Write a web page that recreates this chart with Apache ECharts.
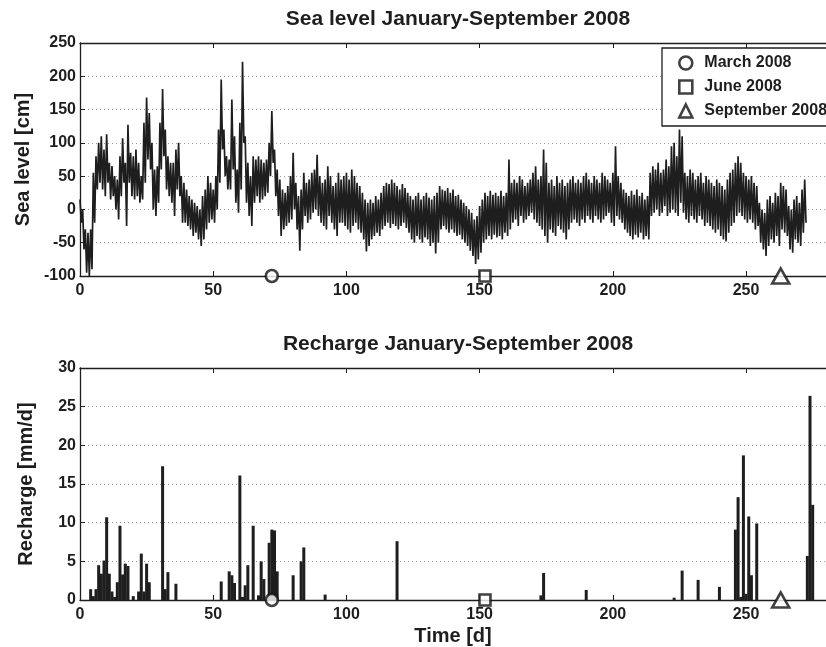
<!DOCTYPE html>
<html>
<head>
<meta charset="utf-8">
<script src="https://cdn.jsdelivr.net/npm/echarts@6/dist/echarts.min.js"></script>
<style>
  html, body { margin: 0; padding: 0; background: #fff; }
  #main { width: 826px; height: 647px; }
</style>
</head>
<body>
<div id="main"></div>
<script>
// sea level, upper / lower envelope of the record for each day [cm], day 0..272
var seaHigh = [
  15, 0, -30, -35, -30, 55, 80, 100, 110, 90,
  113, 70, 65, 50, 45, 80, 107, 70, 127, 85,
  80, 90, 70, 50, 130, 168, 145, 100, 60, 65,
  130, 181, 120, 80, 70, 70, 90, 100, 50, 40,
  30, 20, 15, 10, 5, 0, 20, 30, 50, 40,
  30, 50, 120, 195, 120, 80, 75, 165, 110, 60,
  130, 222, 110, 70, 50, 80, 75, 80, 75, 70,
  75, 100, 148, 90, 60, 45, 30, 25, 35, 50,
  85, 40, 20, 30, 55, 40, 45, 55, 60, 82,
  50, 40, 45, 65, 50, 35, 40, 55, 45, 50,
  55, 45, 60, 50, 40, 35, 25, 15, 10, 15,
  10, 20, 15, 25, 35, 40, 38, 45, 40, 35,
  30, 38, 32, 25, 20, 15, 20, 25, 15, 20,
  25, 18, 15, 20, 25, 35, 30, 28, 32, 25,
  30, 20, 22, 15, 10, 5, 0, -5, -15, -10,
  5, 15, 25, 20, 28, 22, 25, 20, 28, 20,
  25, 75, 40, 45, 40, 50, 45, 35, 40, 45,
  55, 65, 45, 50, 90, 70, 40, 45, 35, 50,
  40, 45, 35, 40, 45, 50, 40, 45, 40, 50,
  55, 45, 40, 50, 45, 40, 55, 50, 45, 40,
  55, 95, 50, 40, 30, 25, 20, 28, 22, 30,
  20, 25, 15, 20, 55, 65, 60, 70, 55, 60,
  75, 65, 95, 100, 80, 120, 110, 55, 50, 60,
  55, 45, 50, 55, 40, 50, 45, 40, 35, 45,
  40, 35, 30, 45, 55, 60, 70, 80, 70, 55,
  50, 45, 50, 40, 35, 10, 0, -5, 15, 20,
  10, 25, 20, 40, 35, 30, 5, 0, 15, 20,
  10, 30, 45
];
var seaLow = [
  -20, -60, -95, -100, -90, -20, 30, 40, 30, 20,
  40, 15, 20, 0, -15, 20, 40, -25, 40, 20,
  15, 20, 10, 15, 40, 75, 60, 0, -10, 10,
  60, 80, 30, 20, 10, -10, 30, 20, -20, -20,
  -25, -30, -40, -35, -45, -55, -45, -30, -20, -15,
  -20, 0, 40, 90, 50, 30, 30, 60, 10, -5,
  30, 100, 10, -10, -25, 10, 20, 10, 15, 20,
  25, 50, 70, 20, -10, -40, -30, -25, -20, -15,
  0, -30, -62, -30, -10, -20, -15, -5, 0, -10,
  -20, -25, -30, -10, -20, -30, -40, -20, -20, -25,
  -30, -35, -25, -20, -30, -35, -45, -63, -55, -45,
  -40, -35, -40, -30, -25, -20, -28, -22, -25, -30,
  -25, -20, -28, -35, -45, -50, -40, -45, -50, -42,
  -45, -55, -50, -66, -50, -30, -25, -30, -35, -30,
  -35, -40, -38, -45, -50, -55, -62, -70, -82, -75,
  -65, -50, -45, -40, -45, -38, -42, -40, -45, -35,
  -40, -30, -20, -15, -25, -10, -20, -15, -10, -5,
  -15, -20, -25, -30, -40, -50, -30, -35, -40, -25,
  -30, -35, -45, -30, -20, -15, -20, -25, -15, -20,
  -10, -15, -20, -10, -15, -20, -15, -10, -5, -20,
  -25, -10, -15, -20, -30, -35, -40, -45, -38, -42,
  -35, -45, -40, -45, -10, -5, 0, -10, -5, 5,
  -10, -5, 0, -5, -10, 10, -5, -15, -20, -10,
  -15, -20, -10, -15, -25, -20, -25, -30, -35, -30,
  -40, -45, -48, -35, -25, -20, -10, -5, -10, -15,
  -20, -15, -20, -30, -25, -50, -60, -70, -55, -45,
  -50, -40, -55, -30, -35, -40, -60, -65, -45, -50,
  -55, -35, -20
];

// daily recharge [mm/d]
var rechargeDays = [
  4, 5, 6, 7, 8, 9, 10, 11, 12, 13,
  14, 15, 16, 17, 18, 20, 22, 23, 24, 25,
  26, 31, 32, 33, 36, 53, 56, 57, 58, 60,
  61, 62, 63, 65, 67, 68, 69, 71, 72, 73,
  74, 80, 83, 84, 92, 119, 173, 174, 190, 223,
  226, 232, 240, 246, 247, 248, 249, 250, 251, 252,
  254, 273, 274, 275
];
var rechargeValues = [
  1.4, 0.5, 1.4, 4.5, 3.4, 5.1, 10.7, 3.4, 1.1, 0.4,
  2.3, 9.6, 3.3, 4.7, 4.4, 0.5, 1.1, 6.0, 1.1, 4.7,
  2.3, 17.3, 1.4, 3.6, 2.1, 2.4, 3.7, 3.2, 2.2, 16.1,
  0.4, 1.9, 4.5, 9.6, 0.6, 5.0, 2.7, 7.4, 9.1, 9.0,
  3.7, 3.2, 5.0, 6.8, 0.7, 7.6, 0.6, 3.5, 1.3, 0.3,
  3.8, 2.6, 1.7, 9.1, 13.3, 0.4, 18.7, 0.8, 10.8, 3.2,
  9.9, 5.7, 26.4, 12.3
];

// sampling dates marked on the time axis
var markerNames = ['March 2008', 'June 2008', 'September 2008'];
var markerDays = [72, 152, 263];
var markerSymbols = ['circle', 'rect', 'triangle'];
var markerSizes = [12, 11, [17, 15]];

var ink = '#1e1e1e';
var font = 'Liberation Sans';

// the record swings between the daily high and low (tides), so draw it as a zigzag
var seaLine = [];
for (var i = 0; i < seaHigh.length; i++) {
  seaLine.push([i, seaHigh[i]]);
  seaLine.push([i + 0.5, seaLow[i]]);
}
var rechargeData = rechargeDays.map(function (d, k) { return [d, rechargeValues[k]]; });

function bottomAxis(grid, name) {
  return {
    gridIndex: grid, type: 'value', position: 'bottom', min: 0, max: 280, interval: 50,
    name: name, nameLocation: 'middle', nameGap: 26,
    nameTextStyle: { color: ink, fontFamily: font, fontWeight: 'bold', fontSize: 20 },
    axisLine: { onZero: false, lineStyle: { color: ink, width: 1.3 } },
    axisTick: { inside: true, length: 5, lineStyle: { color: ink } },
    axisLabel: { margin: 7, color: ink, fontFamily: font, fontWeight: 'bold', fontSize: 16, showMaxLabel: false },
    splitLine: { show: false }
  };
}
function topAxis(grid) {
  return {
    gridIndex: grid, type: 'value', position: 'top', min: 0, max: 280, interval: 50,
    axisLine: { onZero: false, lineStyle: { color: ink, width: 1.3 } },
    axisTick: { inside: true, length: 5, lineStyle: { color: ink } },
    axisLabel: { show: false },
    splitLine: { show: false }
  };
}
function leftAxis(grid, name, min, max, step) {
  return {
    gridIndex: grid, type: 'value', min: min, max: max, interval: step,
    name: name, nameLocation: 'middle', nameGap: 44,
    nameTextStyle: { color: ink, fontFamily: font, fontWeight: 'bold', fontSize: 20 },
    axisLine: { show: true, onZero: false, lineStyle: { color: ink, width: 1.3 } },
    axisTick: { show: true, inside: true, length: 5, lineStyle: { color: ink } },
    axisLabel: { margin: 4, color: ink, fontFamily: font, fontWeight: 'bold', fontSize: 16 },
    splitLine: { show: true, lineStyle: { color: '#9a9a9a', type: [1, 3], width: 1 } }
  };
}

var series = [
  {
    type: 'line', xAxisIndex: 0, yAxisIndex: 0, data: seaLine,
    showSymbol: false, sampling: 'none', z: 2,
    lineStyle: { color: ink, width: 1.7 }
  },
  {
    type: 'bar', xAxisIndex: 2, yAxisIndex: 1, data: rechargeData,
    barWidth: 3, itemStyle: { color: ink }, z: 2
  }
];
markerNames.forEach(function (name, k) {
  [[0, 0, -100], [2, 1, 0]].forEach(function (ax) {
    series.push({
      type: 'scatter', name: name, xAxisIndex: ax[0], yAxisIndex: ax[1],
      data: [[markerDays[k], ax[2]]],
      symbol: markerSymbols[k], symbolSize: markerSizes[k], clip: false, z: 5,
      itemStyle: { color: '#fff', borderColor: '#111', borderWidth: 2.6 }
    });
  });
});

var chart = echarts.init(document.getElementById('main'));
chart.setOption({
  animation: false,
  backgroundColor: '#fff',
  title: [
    { text: 'Sea level January-September 2008', left: 458, top: 9, textAlign: 'center', padding: 0,
      textStyle: { color: ink, fontFamily: font, fontWeight: 'bold', fontSize: 21 } },
    { text: 'Recharge January-September 2008', left: 458, top: 334, textAlign: 'center', padding: 0,
      textStyle: { color: ink, fontFamily: font, fontWeight: 'bold', fontSize: 21 } }
  ],
  legend: {
    data: markerNames, orient: 'vertical', left: 662, top: 48,
    padding: [7, 10, 7, 16], itemGap: 8, itemWidth: 13, itemHeight: 13,
    backgroundColor: '#fff', borderColor: ink, borderWidth: 1.3, borderRadius: 0,
    itemStyle: { color: '#fff', borderColor: '#111', borderWidth: 2.6 },
    textStyle: { color: ink, fontFamily: font, fontWeight: 'bold', fontSize: 16, padding: [0, 0, 0, 7] }
  },
  grid: [
    { left: 80, right: -10, top: 43, height: 233 },
    { left: 80, right: -10, top: 368, height: 234 }
  ],
  xAxis: [bottomAxis(0, ''), topAxis(0), bottomAxis(1, 'Time [d]'), topAxis(1)],
  yAxis: [leftAxis(0, 'Sea level [cm]', -100, 250, 50), leftAxis(1, 'Recharge [mm/d]', 0, 30, 5)],
  series: series
});
</script>
</body>
</html>
